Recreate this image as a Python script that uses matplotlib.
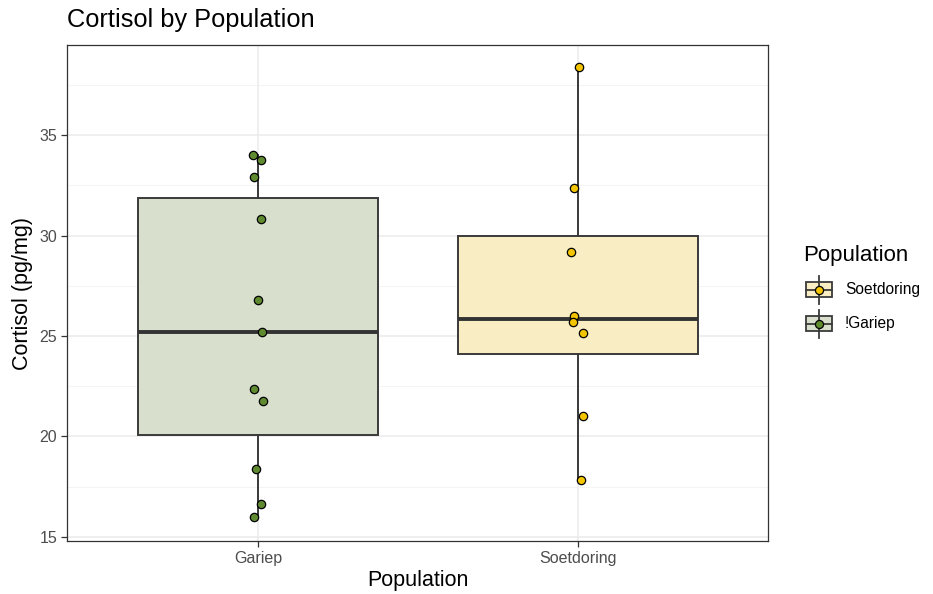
import matplotlib
matplotlib.use("Agg")
import matplotlib.pyplot as plt
import numpy as np
from matplotlib.patches import Rectangle
from matplotlib.lines import Line2D

plt.rcParams['font.family'] = ['Liberation Sans', 'DejaVu Sans']

# Data
populations = ["Gariep", "Soetdoring"]
gariep_cortisol = [34.00, 33.75, 32.92, 30.80, 26.78, 25.20, 22.37, 21.75, 18.40, 16.63, 15.98]
soetdoring_cortisol = [38.37, 32.35, 29.18, 25.99, 25.71, 25.13, 21.00, 17.84]
# horizontal jitter applied to each point (in category units)
gariep_jitter = [-0.015, 0.008, -0.013, 0.008, 0.000, 0.012, -0.012, 0.015, -0.005, 0.008, -0.012]
soetdoring_jitter = [0.002, -0.013, -0.023, -0.012, -0.016, 0.015, 0.015, 0.010]

legend_labels = ["Soetdoring", "!Gariep"]

point_colors = {"Gariep": "#5f8a30", "Soetdoring": "#f2c500"}
box_fills = {"Gariep": "#d8dfcc", "Soetdoring": "#f8edc3"}
line_col = '#3a3a3a'

W, H = 933, 594
fig = plt.figure(figsize=(W / 100, H / 100), dpi=100)
left, right, top, bottom = 67, 768, 45, 541
ax = fig.add_axes([left / W, 1 - bottom / H, (right - left) / W, (bottom - top) / H])

data = [gariep_cortisol, soetdoring_cortisol]
bp = ax.boxplot(data, positions=[1, 2], widths=0.75, patch_artist=True,
                showfliers=False, whis=1.5,
                boxprops=dict(edgecolor=line_col, linewidth=1.4),
                whiskerprops=dict(color=line_col, linewidth=1.4),
                capprops=dict(linewidth=0),
                medianprops=dict(color='#333333', linewidth=2.8),
                zorder=2)
for patch, name in zip(bp['boxes'], populations):
    patch.set_facecolor(box_fills[name])

for i, (vals, jit, name) in enumerate(zip(data, [gariep_jitter, soetdoring_jitter], populations)):
    xs = np.full(len(vals), i + 1.0) + np.array(jit)
    ax.scatter(xs, vals, s=36, facecolor=point_colors[name], edgecolor='black',
               linewidth=0.9, zorder=4)

# axes, ticks and grid (theme_bw look)
ax.set_axisbelow(True)
ax.set_ylim(14.80, 39.48)
ax.set_xlim(0.403, 2.594)
ax.set_yticks([15, 20, 25, 30, 35])
ax.set_yticks([17.5, 22.5, 27.5, 32.5, 37.5], minor=True)
ax.set_xticks([1, 2])
ax.set_xticklabels(populations)
ax.grid(True, which='major', color='#ebebeb', linewidth=1.1)
ax.grid(True, which='minor', axis='y', color='#f2f2f2', linewidth=0.6)
ax.tick_params(which='minor', length=0)
ax.tick_params(which='major', length=4, width=0.9, color='#333333',
               labelcolor='#4d4d4d', labelsize=11.5, pad=3)
for s in ax.spines.values():
    s.set_color('#333333')
    s.set_linewidth(0.9)

ax.set_xlabel("Population", fontsize=15.5, color='black', labelpad=3)
ax.set_ylabel("Cortisol (pg/mg)", fontsize=15.5, color='black', labelpad=5)
fig.text(67 / W, 1 - 20 / H, "Cortisol by Population", fontsize=18.3,
         ha='left', va='center', color='black')

# legend drawn in its own axes (pixel coordinates)
lax = fig.add_axes([0, 0, 1, 1], facecolor='none')
lax.set_xlim(0, W)
lax.set_ylim(H, 0)
lax.axis('off')
lax.text(803, 256, "Population", fontsize=16, ha='left', va='center', color='black')
key_rows = [(289.5, "Soetdoring"), (323.5, "Gariep")]
for (cy, name), label in zip(key_rows, legend_labels):
    cx = 818.5
    lax.add_line(Line2D([cx, cx], [cy - 14, cy + 14], color=line_col, linewidth=1.3))
    lax.add_patch(Rectangle((805.5, cy - 7.5), 26, 15, facecolor=box_fills[name],
                            edgecolor=line_col, linewidth=1.3))
    lax.add_line(Line2D([805.5, 831.5], [cy, cy], color=line_col, linewidth=1.3))
    lax.scatter([cx], [cy], s=34, facecolor=point_colors[name], edgecolor='black',
                linewidth=0.9, zorder=5)
    lax.text(845, cy, label, fontsize=11.2, ha='left', va='center', color='black')

fig.savefig("out.png", dpi=100)
